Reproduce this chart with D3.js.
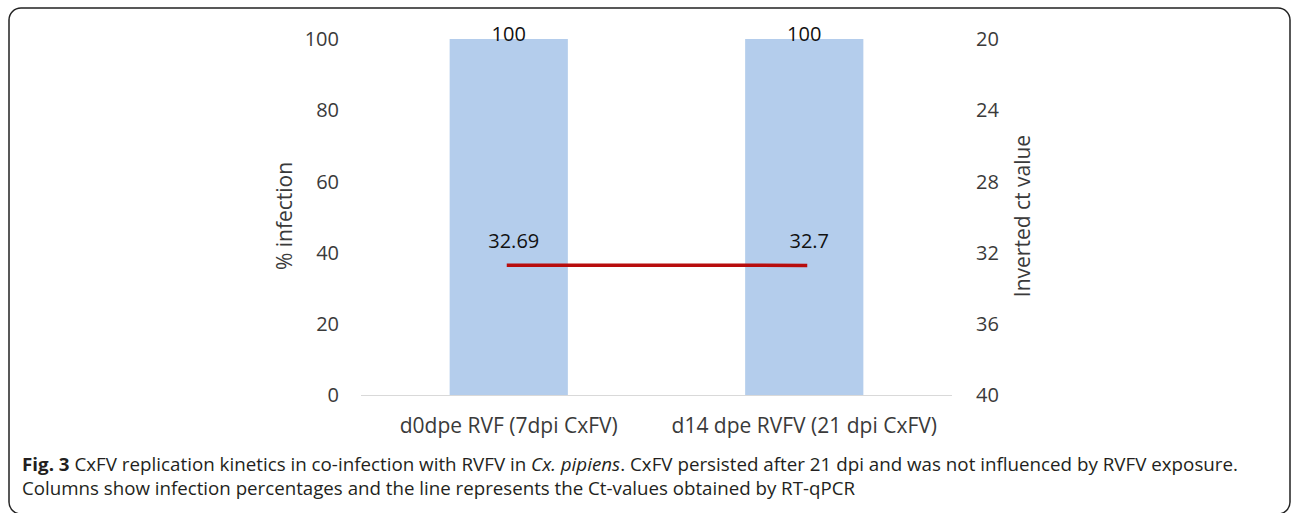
<!DOCTYPE html>
<html><head><meta charset="utf-8">
<script src="https://cdn.jsdelivr.net/npm/d3@7"></script>
<style>body{margin:0;background:#fff}svg{display:block}</style>
</head><body>
<script>
const categories = ["d0dpe RVF (7dpi CxFV)", "d14 dpe RVFV (21 dpi CxFV)"];
const infectionPct = [100, 100];
const ctValues = [32.69, 32.7];
const leftTicks = [0, 20, 40, 60, 80, 100];
const rightTicks = [20, 24, 28, 32, 36, 40];

const W = 1292, H = 513;
const svg = d3.select("body").append("svg").attr("width", W).attr("height", H);

svg.append("rect").attr("x", 9).attr("y", 8).attr("width", 1281).attr("height", 506)
  .attr("rx", 12).attr("fill", "none").attr("stroke", "#222").attr("stroke-width", 1.5);

const x = d3.scaleBand().domain(categories).range([361, 952]).padding(0);
const y = d3.scaleLinear().domain([0, 100]).range([395.5, 39]);
const y2 = d3.scaleLinear().domain([20, 40]).range([39, 395.5]);
const font = "'Open Sans', 'Noto Sans', sans-serif";
const barW = x.bandwidth() * 0.4;

svg.selectAll("rect.bar").data(categories).join("rect").attr("class", "bar")
  .attr("x", d => x(d) + x.bandwidth()/2 - barW/2)
  .attr("y", (d,i) => y(infectionPct[i]))
  .attr("width", barW)
  .attr("height", (d,i) => y(0) - y(infectionPct[i]))
  .attr("fill", "#b4cdec");

svg.append("line").attr("x1", 361).attr("x2", 952).attr("y1", y(0)).attr("y2", y(0))
  .attr("stroke", "#d9d9d9").attr("stroke-width", 1);

const gl = svg.append("g").attr("transform", "translate(361,0)")
  .call(d3.axisLeft(y).tickValues(leftTicks).tickSize(0).tickPadding(22));
const gr = svg.append("g").attr("transform", "translate(952,0)")
  .call(d3.axisRight(y2).tickValues(rightTicks).tickSize(0).tickPadding(24));
const gb = svg.append("g").attr("transform", `translate(0,${y(0)})`)
  .call(d3.axisBottom(x).tickSize(0).tickPadding(23));
[gl, gr].forEach(g => {
  g.select(".domain").remove();
  g.selectAll("text").attr("font-family", font).attr("font-size", 20).attr("fill", "#3a3a3a");
});
gb.select(".domain").remove();
gb.selectAll("text").attr("font-family", font).attr("font-size", 21).attr("fill", "#3a3a3a");

// line
const line = d3.line().x((d,i) => x(categories[i]) + x.bandwidth()/2 + (i === 0 ? -2 : 3)).y(d => y2(d));
svg.append("path").datum(ctValues).attr("d", line)
  .attr("fill", "none").attr("stroke", "#b80d0d").attr("stroke-width", 3.5).attr("stroke-linecap", "butt");

// data labels
svg.selectAll("text.bl").data(categories).join("text").attr("class", "bl")
  .attr("x", d => x(d) + x.bandwidth()/2).attr("y", (d,i) => y(infectionPct[i]) + 2)
  .attr("text-anchor", "middle").attr("font-family", font).attr("font-size", 20).attr("fill", "#111")
  .text((d,i) => infectionPct[i]);
svg.selectAll("text.ll").data(categories).join("text").attr("class", "ll")
  .attr("x", d => x(d) + x.bandwidth()/2 + 5).attr("y", (d,i) => y2(ctValues[i]) - 17)
  .attr("text-anchor", "middle").attr("font-family", font).attr("font-size", 20).attr("fill", "#111")
  .text((d,i) => ctValues[i]);

// axis titles
svg.append("text").attr("transform", "translate(292,216) rotate(-90)").attr("text-anchor", "middle")
  .attr("font-family", font).attr("font-size", 21).attr("fill", "#3a3a3a").text("% infection");
svg.append("text").attr("transform", "translate(1030,216) rotate(-90)").attr("text-anchor", "middle")
  .attr("font-family", font).attr("font-size", 21).attr("fill", "#3a3a3a").text("Inverted ct value");

// caption
const c1 = svg.append("text").attr("x", 22).attr("y", 471).attr("font-family", font).attr("font-size", 17.5)
  .attr("fill", "#231f20").attr("textLength", 1216).attr("lengthAdjust", "spacingAndGlyphs");
c1.append("tspan").attr("font-weight", "bold").text("Fig. 3");
c1.append("tspan").text(" CxFV replication kinetics in co-infection with RVFV in ");
c1.append("tspan").attr("font-style", "italic").text("Cx. pipiens");
c1.append("tspan").text(". CxFV persisted after 21 dpi and was not influenced by RVFV exposure.");
svg.append("text").attr("x", 22).attr("y", 495).attr("font-family", font).attr("font-size", 17.5)
  .attr("fill", "#231f20").attr("textLength", 833).attr("lengthAdjust", "spacingAndGlyphs")
  .text("Columns show infection percentages and the line represents the Ct-values obtained by RT-qPCR");
</script>
</body></html>
